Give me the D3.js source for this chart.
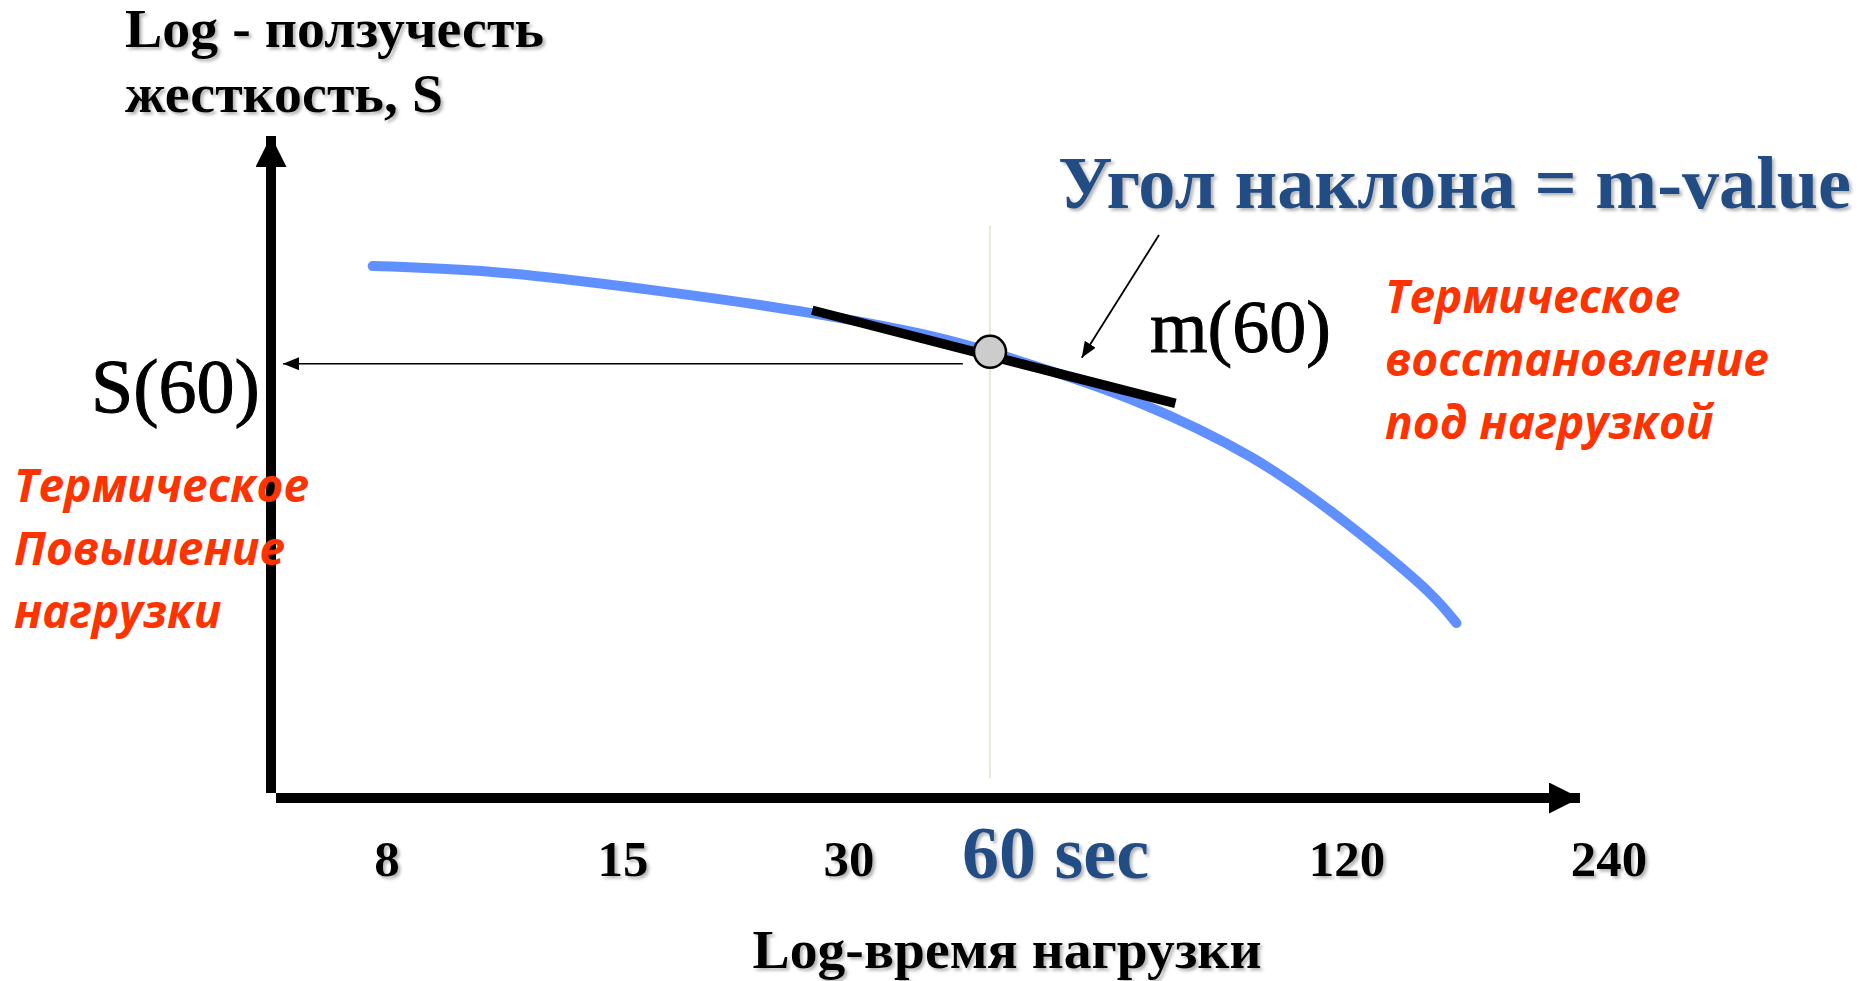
<!DOCTYPE html>
<html>
<head>
<meta charset="utf-8">
<script src="https://cdn.jsdelivr.net/npm/d3@7"></script>
<style>
  html, body { margin: 0; padding: 0; background: #fff; }
  svg { display: block; }
</style>
</head>
<body>
<svg id="chart" width="1862" height="981"></svg>
<script>
// tick values on the log-time axis (seconds)
var tickTimes = [8, 15, 30, 60, 120, 240];
var tickLabels = ['8', '15', '30', '60 sec', '120', '240'];

// creep stiffness curve (time in s, log S in arbitrary units)
var curveTime = [7.7, 10.6, 16.8, 26.6, 44.9, 60, 80.4, 99.3, 116, 149.2, 160.3];
var curveS = [8.06, 7.97, 7.68, 7.35, 7.00, 6.76, 5.98, 5.18, 4.36, 3.11, 2.65];

// point of interest and its tangent
var refTime = 60;
var refS = 6.76;
var tangentTime = [26.8, 86];
var tangentS = [7.39, 5.98];
var sLevel = 6.58;        // horizontal guide to S(60)
var guideStartTime = 52.5;
var vlineS = [8.67, 0.3];  // thin vertical line at 60 s
var pointerTime = [83.3, 71.7];
var pointerS = [8.53, 6.67];

var blue = '#6090ff';
var red = '#ff3300';
var navy = '#214d84';
var serif = '"Liberation Serif", "Times New Roman", serif';
var sans = '"Open Sans", "Noto Sans", sans-serif';

var svg = d3.select('#chart');
var axisX = 271, axisY = 798;

// hand-spaced log axis, so a piecewise log scale
var x = d3.scaleLog()
	.domain(tickTimes)
	.range([387, 623, 849, 990, 1347, 1609]);
var y = d3.scaleLinear()
	.domain([0, 10])
	.range([axisY, axisY - 660]);

var defs = svg.append('defs');
var shadow = defs.append('filter')
	.attr('id', 'shadow')
	.attr('x', '-10%').attr('y', '-10%')
	.attr('width', '130%').attr('height', '140%');
shadow.append('feDropShadow')
	.attr('dx', 2.5).attr('dy', 2.5)
	.attr('stdDeviation', 1.5)
	.attr('flood-color', '#777')
	.attr('flood-opacity', 0.55);

var marker = function(id, w, h, color) {
	defs.append('marker')
		.attr('id', id)
		.attr('viewBox', '0 0 ' + w + ' ' + h)
		.attr('refX', w).attr('refY', h / 2)
		.attr('markerWidth', w).attr('markerHeight', h)
		.attr('markerUnits', 'userSpaceOnUse')
		.attr('orient', 'auto')
		.append('path')
		.attr('d', 'M0,0 L' + w + ',' + h / 2 + ' L0,' + h + ' Z')
		.attr('fill', color);
};
marker('bigArrow', 31, 31, '#000');
marker('thinArrow', 16, 13, '#000');

// thin vertical line at 60 s
svg.append('line')
	.attr('x1', x(refTime)).attr('x2', x(refTime))
	.attr('y1', y(vlineS[0])).attr('y2', y(vlineS[1]))
	.attr('stroke', '#ece7dc')
	.attr('stroke-width', 2);

// axes
svg.append('line')
	.attr('x1', axisX).attr('x2', axisX)
	.attr('y1', axisY - 5).attr('y2', 136)
	.attr('stroke', '#000')
	.attr('stroke-width', 10)
	.attr('marker-end', 'url(#bigArrow)');
svg.append('line')
	.attr('x1', axisX + 5).attr('x2', 1580)
	.attr('y1', axisY).attr('y2', axisY)
	.attr('stroke', '#000')
	.attr('stroke-width', 10)
	.attr('marker-end', 'url(#bigArrow)');

// tick labels
svg.append('g')
	.selectAll('text')
	.data(tickTimes)
	.enter()
	.append('text')
	.attr('x', d => d === refTime ? x(d) - 28 : x(d))
	.attr('y', d => d === refTime ? 878 : 876)
	.attr('text-anchor', d => d === refTime ? 'start' : 'middle')
	.attr('font-family', serif)
	.attr('font-weight', 'bold')
	.attr('font-size', d => d === refTime ? 74 : 51)
	.attr('fill', d => d === refTime ? navy : '#000')
	.attr('filter', 'url(#shadow)')
	.text((d, i) => tickLabels[i]);

// the curve
var pts = curveTime.map((t, i) => [t, curveS[i]]);
svg.append('path')
	.datum(pts)
	.attr('d', d3.line()
		.x(d => x(d[0]))
		.y(d => y(d[1]))
		.curve(d3.curveCatmullRom))
	.attr('fill', 'none')
	.attr('stroke', blue)
	.attr('stroke-width', 10)
	.attr('stroke-linecap', 'round');

// horizontal guide arrow to the y axis
svg.append('line')
	.attr('x1', x(guideStartTime)).attr('x2', axisX + 12)
	.attr('y1', y(sLevel)).attr('y2', y(sLevel))
	.attr('stroke', '#000')
	.attr('stroke-width', 1.6)
	.attr('marker-end', 'url(#thinArrow)');

// tangent
svg.append('line')
	.attr('x1', x(tangentTime[0])).attr('x2', x(tangentTime[1]))
	.attr('y1', y(tangentS[0])).attr('y2', y(tangentS[1]))
	.attr('stroke', '#000')
	.attr('stroke-width', 9.5);

svg.append('circle')
	.attr('cx', x(refTime))
	.attr('cy', y(refS))
	.attr('r', 16)
	.attr('fill', '#cccccc')
	.attr('stroke', '#000')
	.attr('stroke-width', 2.5);

// pointer from the title to the tangent
svg.append('line')
	.attr('x1', x(pointerTime[0])).attr('x2', x(pointerTime[1]))
	.attr('y1', y(pointerS[0])).attr('y2', y(pointerS[1]))
	.attr('stroke', '#000')
	.attr('stroke-width', 1.8)
	.attr('marker-end', 'url(#thinArrow)');

// texts
var addText = function(str, tx, ty, size, opts) {
	opts = opts || {};
	var t = svg.append('text')
		.attr('x', tx).attr('y', ty)
		.attr('font-family', opts.family || serif)
		.attr('font-size', size)
		.attr('font-weight', opts.weight || 'bold')
		.attr('font-style', opts.style || 'normal')
		.attr('fill', opts.color || '#000')
		.attr('text-anchor', opts.anchor || 'start')
		.text(str);
	if (opts.len) t.attr('textLength', opts.len).attr('lengthAdjust', 'spacingAndGlyphs');
	if (opts.shadow) t.attr('filter', 'url(#shadow)');
	if (opts.heavy) t.attr('stroke', opts.color || '#000').attr('stroke-width', 1);
	return t;
};

addText('Log - ползучесть', 125, 47, 54, {shadow: true, len: 419});
addText('жесткость, S', 125, 112, 54, {shadow: true, len: 318});
addText('Log-время нагрузки', 1007, 968, 54, {anchor: 'middle', shadow: true, len: 509});
addText('Угол наклона = m-value', 1058, 208, 75, {color: navy, shadow: true, len: 793});
addText('m(60)', 1150, 352, 74, {weight: 'normal', heavy: true});
addText('S(60)', 91, 412, 76, {weight: 'normal', heavy: true});

var redLeft = ['Термическое', 'Повышение', 'нагрузки'];
redLeft.forEach((s, i) => addText(s, 14, 502 + i * 63, 46,
	{family: sans, style: 'italic', color: red}));
var redRight = ['Термическое', 'восстановление', 'под нагрузкой'];
redRight.forEach((s, i) => addText(s, 1385, 313 + i * 63, 46,
	{family: sans, style: 'italic', color: red}));
</script>
</body>
</html>
